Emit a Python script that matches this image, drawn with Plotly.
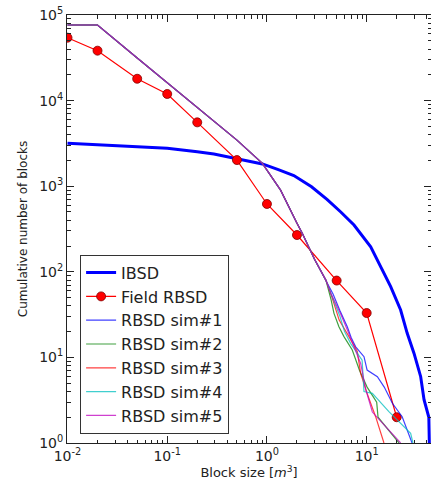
import plotly.graph_objects as go

# ---------------- data ----------------
ibsd_x = [0.01, 0.03, 0.1, 0.2, 0.294, 0.5, 0.9, 1.3, 1.86, 2.8, 4.0, 5.5, 7.46,
          10.97, 13.8, 17.4, 21.9, 25.5, 29.8, 34.8, 37.6, 42.0, 42.5]
ibsd_y = [3170, 2950, 2770, 2520, 2380, 2090, 1820, 1560, 1330, 986, 703, 500, 352,
          196, 115, 67, 35.8, 19.1, 11.2, 5.95, 3.2, 2.0, 1.0]

field_x = [0.01, 0.02, 0.05, 0.1, 0.2, 0.5, 1, 2, 5, 10, 20]
field_y = [54300, 38300, 18000, 11950, 5570, 2020, 620, 269, 79, 33, 2]

# common part shared by the five simulations (they overlap up to ~4 m3)
sim_head_x = [0.01, 0.02, 0.05, 0.1, 0.2, 0.3, 0.5, 0.9, 1.37, 2.0, 2.26, 3.0, 3.9]
sim_head_y = [76400, 76400, 31500, 16100, 8260, 5600, 3450, 1850, 900, 370, 282, 140, 80]

sim1_x = [4.6, 5.4, 6.39, 7.0, 7.76, 9.4, 10.1, 12.8, 15.0, 18.1, 22.7, 28.5]
sim1_y = [55, 35, 22.8, 17, 13.3, 10.2, 7.1, 5.95, 4.5, 2.91, 2.03, 1]

sim2_x = [4.4, 4.7, 5.27, 5.92, 7.17, 8.5, 10.1, 12.6, 13.0, 21.1]
sim2_y = [47, 32.7, 22.8, 17.5, 12.2, 7, 4.5, 3.0, 2.0, 1]

sim3_x = [4.5, 5.3, 6.64, 8.05, 8.7, 10.1, 12.3, 14.9]
sim3_y = [50, 27.3, 17.5, 11.7, 6.5, 3.8, 2.03, 1]

sim4_x = [4.4, 5.4, 6.0, 6.9, 9.0, 9.4, 11.4, 16.7, 27.6, 29.1]
sim4_y = [55, 30, 20, 14.6, 9.3, 4.0, 3.8, 2.32, 1.3, 1]

sim5_x = [4.4, 5.5, 6.5, 7.5, 8.7, 9.8, 11.4, 21.9]
sim5_y = [55, 32, 20, 13, 8.5, 4.2, 2.3, 1]

sim_names = ["RBSD sim#1", "RBSD sim#2", "RBSD sim#3", "RBSD sim#4", "RBSD sim#5"]
sim_colors = ["#0000ff", "#008000", "#ff0000", "#00bfbf", "#bf00bf"]
sim_tails = [(sim1_x, sim1_y), (sim2_x, sim2_y), (sim3_x, sim3_y),
             (sim4_x, sim4_y), (sim5_x, sim5_y)]

x_tickvals = [0.01, 0.1, 1, 10]
x_ticktext = ["10<sup>-2</sup>", "10<sup>-1</sup>", "10<sup>0</sup>", "10<sup>1</sup>"]
y_tickvals = [1, 10, 100, 1000, 10000, 100000]
y_ticktext = ["10<sup>0</sup>", "10<sup>1</sup>", "10<sup>2</sup>",
              "10<sup>3</sup>", "10<sup>4</sup>", "10<sup>5</sup>"]

# minor tick positions (2..9 within each decade)
x_minor = [m * d for d in [0.01, 0.1, 1, 10] for m in range(2, 10)]
y_minor = [m * d for d in [1, 10, 100, 1000, 10000] for m in range(2, 10)]

# ---------------- figure ----------------
fig = go.Figure()

fig.add_trace(go.Scatter(x=ibsd_x, y=ibsd_y, mode="lines", name="IBSD",
                         line=dict(color="#0000ff", width=3)))

fig.add_trace(go.Scatter(x=field_x, y=field_y, mode="lines+markers", name="Field RBSD",
                         line=dict(color="#ff0000", width=1.2),
                         marker=dict(color="#ff0000", size=9,
                                     line=dict(color="#800000", width=0.8))))

for name, col, (tx, ty) in zip(sim_names, sim_colors, sim_tails):
    fig.add_trace(go.Scatter(x=sim_head_x + tx, y=sim_head_y + ty, mode="lines",
                             name=name, opacity=0.75,
                             line=dict(color=col, width=1.2)))

axis_common = dict(
    type="log", showgrid=False, zeroline=False,
    showline=True, linecolor="#222222", linewidth=1, mirror="allticks",
    ticks="inside", ticklen=7, tickcolor="#222222", tickwidth=1,
    ticklabeloverflow="allow",
    tickfont=dict(family="DejaVu Sans", size=14, color="#222222"),
)

fig.update_xaxes(**axis_common, range=[-2.005, 1.645],
                 tickmode="array", tickvals=x_tickvals, ticktext=x_ticktext,
                 minor=dict(tickmode="array", tickvals=x_minor, ticks="inside",
                            ticklen=3.5, tickcolor="#222222", tickwidth=0.8,
                            showgrid=False),
                 title=dict(text="Block size [<i>m</i><sup>3</sup>]",
                            font=dict(family="DejaVu Sans", size=13, color="#222222"),
                            standoff=4))
fig.update_yaxes(**axis_common, range=[0, 5],
                 tickmode="array", tickvals=y_tickvals, ticktext=y_ticktext,
                 minor=dict(tickmode="array", tickvals=y_minor, ticks="inside",
                            ticklen=3.5, tickcolor="#222222", tickwidth=0.8,
                            showgrid=False),
                 title=dict(text="Cumulative number of blocks",
                            font=dict(family="DejaVu Sans", size=12, color="#222222"),
                            standoff=8))

fig.update_layout(
    width=431, height=487,
    margin=dict(l=67, r=0, t=15, b=44, autoexpand=False),
    paper_bgcolor="white", plot_bgcolor="white",
    font=dict(family="DejaVu Sans", color="black"),
    showlegend=True,
    legend=dict(x=0.036, y=0.44, xanchor="left", yanchor="top",
                bgcolor="white", bordercolor="#333333", borderwidth=1,
                font=dict(family="DejaVu Sans", size=16, color="#222222"),
                tracegroupgap=0),
)

# remove the default page margin so the figure sits at the window's top-left corner
fig.write_html("out.html",
               config={"displayModeBar": False},
               post_script="document.body.style.margin='0';document.body.style.overflow='hidden';")
